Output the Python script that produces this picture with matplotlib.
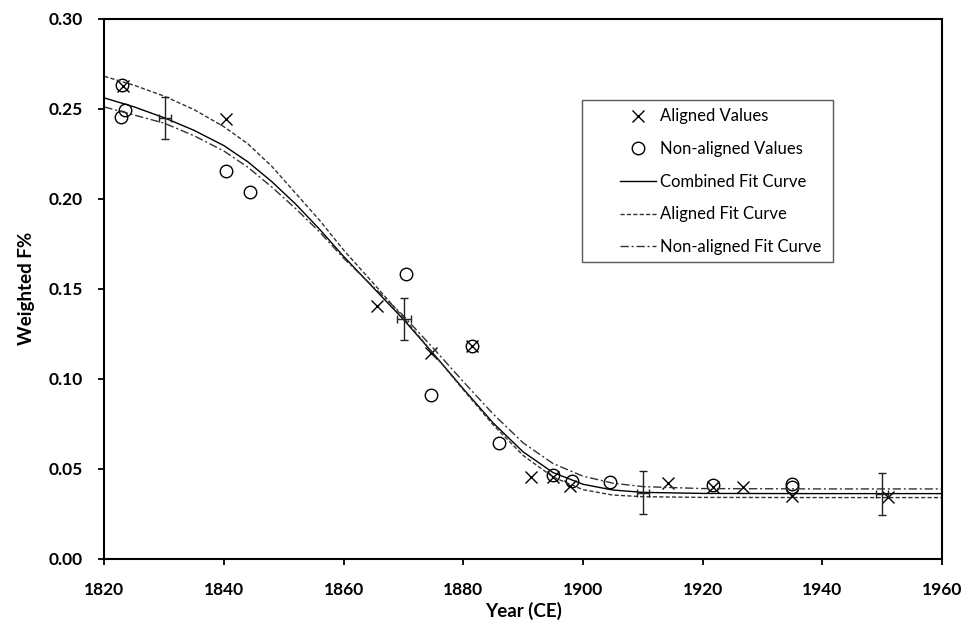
import matplotlib.pyplot as plt
from matplotlib.patches import Rectangle
import numpy as np

plt.rcParams['font.family'] = ['Lato', 'DejaVu Sans']

# aligned values (x markers)
aligned_year = [1823.2, 1840.3, 1865.6, 1874.6, 1881.4, 1891.3, 1895.0, 1897.8,
                1914.3, 1921.7, 1926.7, 1935.0, 1951.0]
aligned_val = [0.2624, 0.2443, 0.1402, 0.1146, 0.1183, 0.0457, 0.0457, 0.0407,
               0.0424, 0.0398, 0.0398, 0.0350, 0.0343]

# non-aligned values (circles)
nonal_year = [1822.9, 1823.5, 1822.8, 1840.3, 1844.3, 1870.4, 1874.6, 1881.4,
              1886.0, 1895.0, 1898.1, 1904.6, 1921.7, 1935.0, 1935.0]
nonal_val = [0.2630, 0.2494, 0.2452, 0.2156, 0.2039, 0.1583, 0.0911, 0.1183,
             0.0643, 0.0465, 0.0435, 0.0430, 0.0411, 0.0417, 0.0402]

# fit curves
curve_year = [1820, 1825, 1830, 1835, 1840, 1844, 1848, 1852, 1856, 1860, 1865, 1870, 1875,
              1880, 1885, 1890, 1895, 1900, 1905, 1910, 1920, 1940, 1960]
combined = [0.256, 0.2510, 0.2450, 0.2380, 0.2295, 0.2205, 0.2095, 0.1970, 0.1830, 0.1680,
            0.1505, 0.1330, 0.1140, 0.0945, 0.0755, 0.0595, 0.0480, 0.0415, 0.0383, 0.0370,
            0.0364, 0.0363, 0.0363]
aligned_fit = [0.268, 0.2630, 0.2570, 0.2495, 0.2400, 0.2305, 0.2180, 0.2030, 0.1880, 0.1715,
               0.1530, 0.1340, 0.1140, 0.0940, 0.0745, 0.0575, 0.0455, 0.0385, 0.0355, 0.0346,
               0.0342, 0.0341, 0.0341]
nonal_fit = [0.251, 0.2465, 0.2420, 0.2350, 0.2265, 0.2175, 0.2065, 0.1945, 0.1815, 0.1670,
             0.1510, 0.1350, 0.1170, 0.0985, 0.0805, 0.0645, 0.0530, 0.0460, 0.0421, 0.0402,
             0.0391, 0.0389, 0.0389]

# error bars on the combined curve
err_year = [1830.1, 1870.1, 1910.0, 1950.0]
err_val = [0.2448, 0.1333, 0.0369, 0.0361]
err_y = [0.0115, 0.0115, 0.0117, 0.0117]
err_x = [1.0, 1.1, 1.0, 1.0]

fig = plt.figure(figsize=(9.66, 6.29), dpi=100)
ax = fig.add_axes([0.108, 0.1113, 0.867, 0.859])

ax.plot(aligned_year, aligned_val, linestyle='none', marker='x', color='black',
        markersize=8.5, markeredgewidth=1.0, label='Aligned Values')
ax.plot(nonal_year, nonal_val, linestyle='none', marker='o', markerfacecolor='none',
        markeredgecolor='black', markersize=9, markeredgewidth=1.0, label='Non-aligned Values')
ax.plot(curve_year, combined, color='black', lw=1.0, label='Combined Fit Curve')
ax.plot(curve_year, aligned_fit, color='#333333', lw=1.0, dashes=(3, 1.6), label='Aligned Fit Curve')
ax.plot(curve_year, nonal_fit, color='#333333', lw=1.0, dashes=(6, 2, 1.5, 2), label='Non-aligned Fit Curve')

ax.errorbar(err_year, err_val, yerr=err_y, xerr=err_x, fmt='none', ecolor='#222222',
            elinewidth=1.0, capsize=3, capthick=1.0)

ax.set_xlim(1820, 1960)
ax.set_ylim(0, 0.30)
ax.set_xticks(np.arange(1820, 1961, 20))
ax.set_yticks(np.arange(0, 0.301, 0.05))
ax.set_yticklabels(['%.2f' % v for v in np.arange(0, 0.301, 0.05)])
ax.tick_params(direction='out', length=4.5, width=1.3, labelsize=12.5)
ax.tick_params(axis='x', pad=12)
ax.tick_params(axis='y', pad=11)
for lab in ax.get_xticklabels() + ax.get_yticklabels():
    lab.set_fontweight('bold')
for sp in ax.spines.values():
    sp.set_linewidth(1.5)

ax.set_xlabel('Year (CE)', fontsize=13.5, fontweight='bold', labelpad=3)
ax.set_ylabel('Weighted F%', fontsize=13.5, fontweight='bold', labelpad=10)

# legend box drawn separately (wide Excel-style frame)
ax.add_patch(Rectangle((0.5703, 0.55), 0.2996, 0.30, transform=ax.transAxes,
                       facecolor='white', edgecolor='#595959', lw=1.0, zorder=4))
leg = ax.legend(loc='upper left', bbox_to_anchor=(0.6156, 0.834), fontsize=12,
                frameon=False, handlelength=2.16, labelspacing=1.0, borderpad=0,
                handletextpad=0.25, borderaxespad=0)
leg.set_zorder(5)

fig.savefig('out.png', dpi=100)
